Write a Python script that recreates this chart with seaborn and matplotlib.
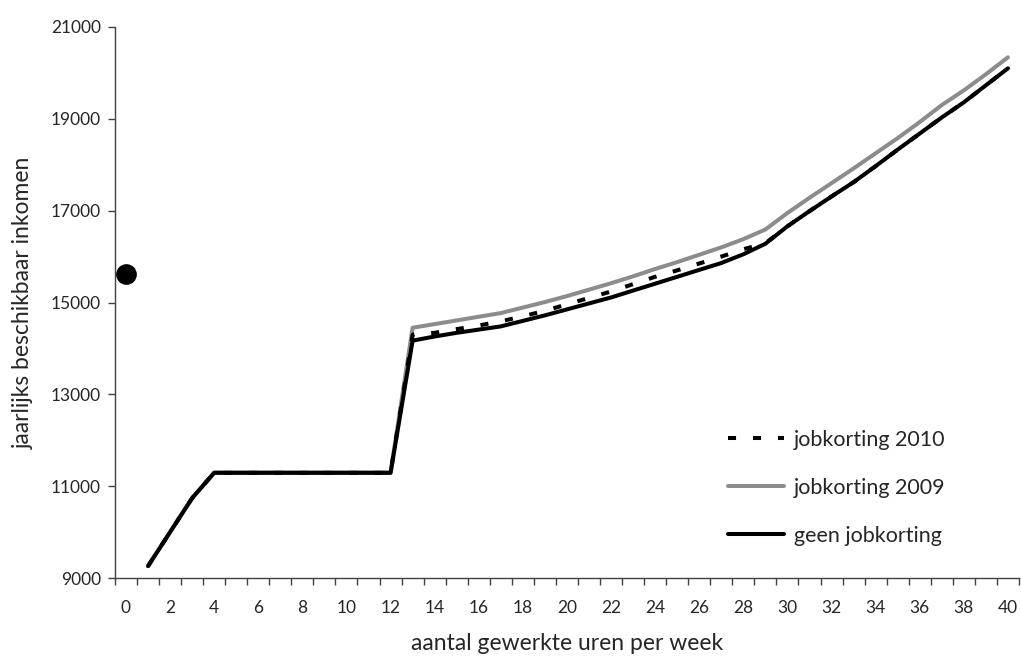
import numpy as np
import pandas as pd
import seaborn as sns
import matplotlib.pyplot as plt
from matplotlib.ticker import FixedLocator

# hours worked per week (category axis 0..40)
uren = [1, 2, 3, 4, 5, 6, 7, 8, 9, 10, 11, 12, 13, 14, 15, 16, 17, 18, 19, 20,
        21, 22, 23, 24, 25, 26, 27, 28, 29, 30, 31, 32, 33, 34, 35, 36, 37, 38, 39, 40]

jobkorting_2010 = [9260, 10000, 10740, 11290, 11290, 11290, 11290, 11290, 11290, 11290,
                   11290, 11290, 14300, 14340, 14420, 14500, 14590, 14700, 14820, 14960,
                   15100, 15240, 15400, 15560, 15700, 15850, 16000, 16160, 16290, 16660,
                   16990, 17310, 17620, 17970, 18330, 18680, 19030, 19360, 19730, 20100]

jobkorting_2009 = [9260, 10000, 10740, 11300, 11300, 11300, 11300, 11300, 11300, 11300,
                   11300, 11300, 14450, 14530, 14610, 14690, 14770, 14890, 15010, 15140,
                   15280, 15420, 15570, 15730, 15880, 16040, 16200, 16380, 16590, 16950,
                   17280, 17600, 17920, 18250, 18580, 18930, 19300, 19620, 19970, 20340]

geen_jobkorting = [9260, 10000, 10740, 11290, 11290, 11290, 11290, 11290, 11290, 11290,
                   11290, 11290, 14170, 14260, 14340, 14410, 14480, 14600, 14720, 14850,
                   14980, 15110, 15260, 15410, 15560, 15710, 15860, 16050, 16280, 16660,
                   16990, 17310, 17620, 17970, 18330, 18680, 19030, 19360, 19730, 20100]

# single point at 0 hours
punt_x = [0]
punt_y = [15620]

series_names = ["jobkorting 2010", "jobkorting 2009", "geen jobkorting"]
x_ticks = [0, 2, 4, 6, 8, 10, 12, 14, 16, 18, 20, 22, 24, 26, 28, 30, 32, 34, 36, 38, 40]
y_ticks = [9000, 11000, 13000, 15000, 17000, 19000, 21000]

df = pd.concat([
    pd.DataFrame({"uren": uren, "inkomen": jobkorting_2010, "reeks": series_names[0]}),
    pd.DataFrame({"uren": uren, "inkomen": jobkorting_2009, "reeks": series_names[1]}),
    pd.DataFrame({"uren": uren, "inkomen": geen_jobkorting, "reeks": series_names[2]}),
])

sns.set_style("ticks")
plt.rcParams['font.family'] = ['Lato', 'DejaVu Sans']

fig = plt.figure(figsize=(10.21, 6.65), dpi=100)
ax = fig.add_axes([0.1126, 0.1308, 0.8854, 0.8286])

palette = {"jobkorting 2010": "black", "jobkorting 2009": "#8c8c8c", "geen jobkorting": "black"}

# draw gray first, then dashed, then black on top
for name in ["jobkorting 2009", "jobkorting 2010", "geen jobkorting"]:
    sub = df[df["reeks"] == name]
    sns.lineplot(data=sub, x="uren", y="inkomen", color=palette[name],
                 linewidth=2.9, ax=ax, label=name)
    if name == "jobkorting 2010":
        ax.lines[-1].set_dashes((2, 4.2))

sns.scatterplot(x=punt_x, y=punt_y, s=190, color="black", edgecolor="black", ax=ax, zorder=5)

ax.set_xlim(-0.5, 40.5)
ax.set_ylim(9000, 21000)
ax.yaxis.set_major_locator(FixedLocator(y_ticks))
ax.xaxis.set_major_locator(FixedLocator(x_ticks))
ax.set_xticklabels([str(v) for v in x_ticks])
ax.xaxis.set_minor_locator(FixedLocator(list(np.arange(-0.5, 41, 1.0))))
ax.tick_params(axis="x", which="major", length=0, pad=16, labelsize=12.5)
ax.tick_params(axis="x", which="minor", length=5, width=1, color="#404040", direction="out")
ax.tick_params(axis="y", length=5, width=1, color="#404040", pad=5, labelsize=12.5)

for side in ["top", "right"]:
    ax.spines[side].set_visible(False)
for side in ["left", "bottom"]:
    ax.spines[side].set_color("#404040")
    ax.spines[side].set_linewidth(1)

ax.set_xlabel("aantal gewerkte uren per week", fontsize=16.5, labelpad=12)
ax.set_ylabel("jaarlijks beschikbaar inkomen", fontsize=16.5, labelpad=12)

handles, labels = ax.get_legend_handles_labels()
order = [labels.index(n) for n in series_names]
ax.legend([handles[i] for i in order], [labels[i] for i in order],
          loc="upper left", bbox_to_anchor=(0.669, 0.285), borderaxespad=0,
          frameon=False, fontsize=15.5, labelspacing=1.3, handlelength=2.6,
          handletextpad=0.45)

plt.savefig("out.png", dpi=100)
